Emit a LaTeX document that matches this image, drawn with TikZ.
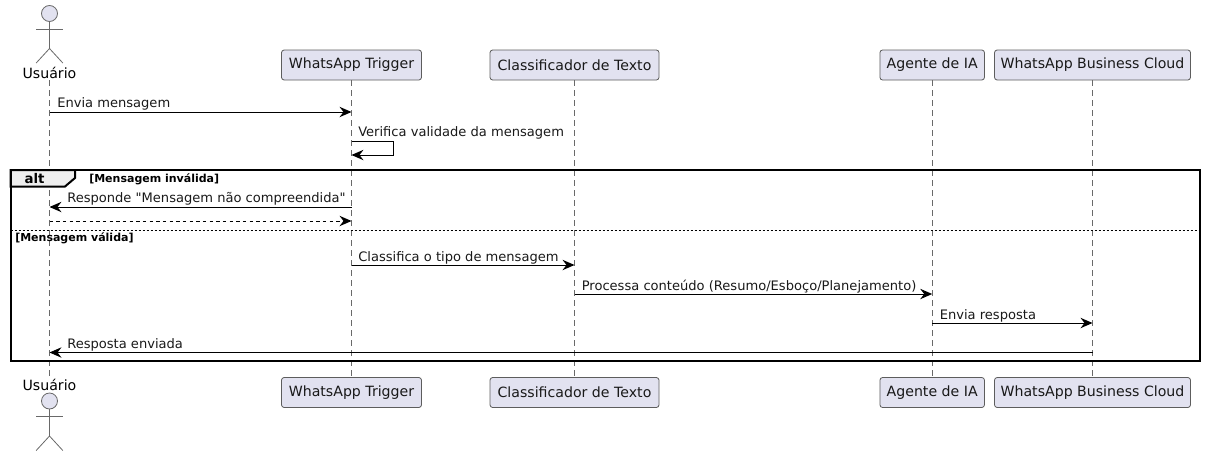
\documentclass[tikz,border=0pt]{standalone}
\usepackage{fontspec}
\setmainfont[Ligatures=TeXOff]{DejaVu Sans}
\usetikzlibrary{arrows.meta}
\definecolor{boxfill}{HTML}{E2E2F0}
\definecolor{tabfill}{HTML}{EEEEEE}
\definecolor{inkline}{HTML}{181818}
\tikzset{>={Stealth[length=9pt,width=7.8pt,inset=3pt]}}
\tikzset{
  party/.style={draw=inkline!70, line width=0.6pt, fill=boxfill, rounded corners=2pt, minimum height=22.5pt, inner sep=0pt, font=\fontsize{10.6}{12}\selectfont, text=black!90},
  lifeline/.style={draw=inkline!65, line width=0.5pt, dash pattern=on 4pt off 3.5pt},
  actorline/.style={draw=inkline!65, line width=0.6pt},
  msg/.style={->, line width=0.75pt, draw=black},
  msgtext/.style={anchor=base west, inner sep=0pt, font=\fontsize{9.8}{12}\selectfont, text=black!90},
  guard/.style={anchor=base west, inner sep=0pt, font=\fontsize{8.25}{10}\bfseries\selectfont}
}

\begin{document}
\begin{tikzpicture}[x=0.75pt,y=-0.75pt]
\useasboundingbox (0,0) rectangle (1206,457);
% participants, top row and bottom row
\node[inner sep=1pt, font=\fontsize{10.6}{12}\selectfont] (UT) at (49.5,73) {Usuário};
\node[inner sep=1pt, font=\fontsize{10.6}{12}\selectfont] (UB) at (49.5,385) {Usuário};
\node[party, minimum width=105pt] (TT) at (351.5,65) {WhatsApp Trigger};
\node[party, minimum width=105pt] (TB) at (351.5,392.5) {WhatsApp Trigger};
\node[party, minimum width=126.75pt] (CT) at (574.5,65) {Classificador de Texto};
\node[party, minimum width=126.75pt] (CB) at (574.5,392.5) {Classificador de Texto};
\node[party, minimum width=78.4pt] (AT) at (932.2,65) {Agente de IA};
\node[party, minimum width=78.4pt] (AB) at (932.2,392.5) {Agente de IA};
\node[party, minimum width=147pt] (WT) at (1092.5,65) {WhatsApp Business Cloud};
\node[party, minimum width=147pt] (WB) at (1092.5,392.5) {WhatsApp Business Cloud};
% lifelines
\draw[lifeline] (UT) -- (UB);
\draw[lifeline] (TT) -- (TB);
\draw[lifeline] (CT) -- (CB);
\draw[lifeline] (AT) -- (AB);
\draw[lifeline] (WT) -- (WB);
% actor figures
\foreach \y in {13.5,401} {
\draw[actorline, fill=boxfill] (49.5,\y) circle (8);
\draw[actorline] (49.5,\y+8) -- (49.5,\y+35);
\draw[actorline] (36.2,\y+15.5) -- (62.8,\y+15.5);
\draw[actorline] (36.2,\y+49.5) -- (49.5,\y+35) -- (62.8,\y+49.5);
}
% points on the lifelines
\foreach \y in {112,207,221}
\coordinate (U\y) at (49.5,\y);
\foreach \y in {112,141,155,207,221,265}
\coordinate (T\y) at (351.5,\y);
\foreach \y in {265,294}
\coordinate (C\y) at (574.5,\y);
\foreach \y in {294,323}
\coordinate (A\y) at (932.2,\y);
\coordinate (W323) at (1092.5,323);
\coordinate (U352) at (49.5,352.5);
\coordinate (W352) at (1092.5,352.5);
\coordinate (S141) at (393.5,141);
\coordinate (S155) at (393.5,155);
% alt frame
\coordinate (F1) at (10.5,170);
\coordinate (F2) at (1200,361);
\coordinate (D1) at (10.5,230);
\coordinate (D2) at (1200,230);
\draw[line width=1.5pt, draw=black, fill=tabfill] (F1) -- (75,170) -- (75,178) -- (65,186.5) -- (10.5,186.5) -- cycle;
\draw[line width=1.5pt, draw=black] (F1) rectangle (F2);
\draw[line width=0.6pt, draw=black, dash pattern=on 1.5pt off 1.5pt] (D1) -- (D2);
\node[anchor=base, inner sep=0pt, font=\fontsize{10}{12}\bfseries\selectfont] (altlabel) at (34.5,183) {alt};
\node[guard] (invalida) at (89,182) {[Mensagem inválida]};
\node[guard] (valida) at (15,241) {[Mensagem válida]};
% messages
\draw[msg] (U112) -- (T112);
\node[msgtext] (m1) at (57,107.5) {Envia mensagem};
\draw[msg] (T141) -- (S141) -- (S155) -- (T155);
\node[msgtext] (m2) at (358,136) {Verifica validade da mensagem};
\draw[msg] (T207) -- (U207);
\node[msgtext] (m3) at (67,202.5) {Responde "Mensagem não compreendida"};
\draw[msg, dash pattern=on 2.5pt off 2.5pt] (U221) -- (T221);
\draw[msg] (T265) -- (C265);
\node[msgtext] (m4) at (358,261) {Classifica o tipo de mensagem};
\draw[msg] (C294) -- (A294);
\node[msgtext] (m5) at (581.5,290) {Processa conteúdo (Resumo/Esboço/Planejamento)};
\draw[msg] (A323) -- (W323);
\node[msgtext] (m6) at (939.5,319) {Envia resposta};
\draw[msg] (W352) -- (U352);
\node[msgtext] (m7) at (67,348) {Resposta enviada};
\end{tikzpicture}
\end{document}
